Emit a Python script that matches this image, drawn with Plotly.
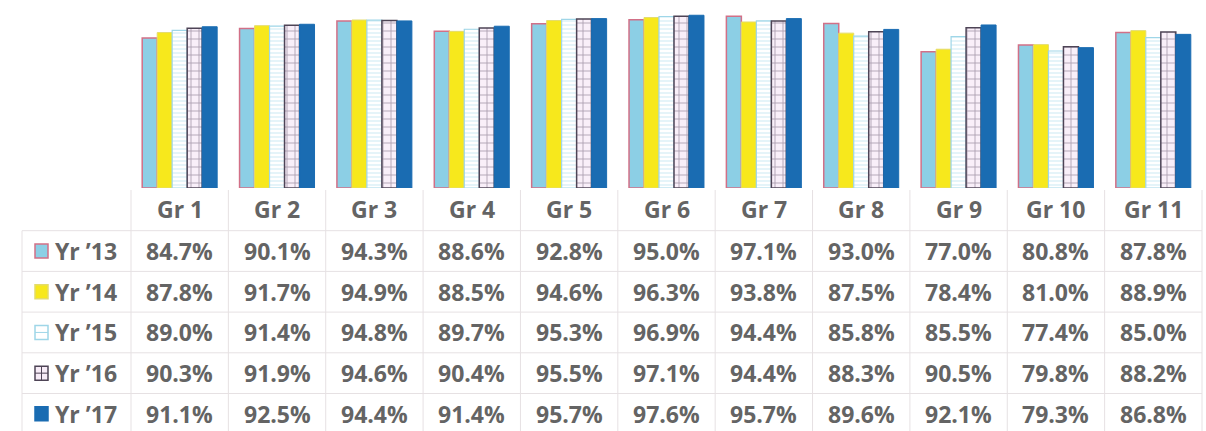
import plotly.graph_objects as go

# Categories and yearly percentages
groups = ["Gr 1", "Gr 2", "Gr 3", "Gr 4", "Gr 5", "Gr 6", "Gr 7", "Gr 8", "Gr 9", "Gr 10", "Gr 11"]
years = ["Yr ’13", "Yr ’14", "Yr ’15", "Yr ’16", "Yr ’17"]
yr13 = [84.7, 90.1, 94.3, 88.6, 92.8, 95.0, 97.1, 93.0, 77.0, 80.8, 87.8]
yr14 = [87.8, 91.7, 94.9, 88.5, 94.6, 96.3, 93.8, 87.5, 78.4, 81.0, 88.9]
yr15 = [89.0, 91.4, 94.8, 89.7, 95.3, 96.9, 94.4, 85.8, 85.5, 77.4, 85.0]
yr16 = [90.3, 91.9, 94.6, 90.4, 95.5, 97.1, 94.4, 88.3, 90.5, 79.8, 88.2]
yr17 = [91.1, 92.5, 94.4, 91.4, 95.7, 97.6, 95.7, 89.6, 92.1, 79.3, 86.8]
series = [yr13, yr14, yr15, yr16, yr17]

W, H = 1206, 431
L, R, T, B = 131, 1202, 11, 188  # plot area in pixels


def xp(px):
    return (px - L) / (R - L)


def yp(py):
    return (B - py) / (B - T)


styles = [
    dict(color="#8ccfe5", line=dict(color="#d27087", width=1.5)),
    dict(color="#f7e81c", line=dict(color="#e4dc6a", width=1)),
    dict(color="#ffffff", line=dict(color="#9fd6e8", width=1.2),
         pattern=dict(shape="-", fgcolor="#b3e0ee", bgcolor="#ffffff", size=4, solidity=0.35)),
    dict(color="#f7ecf7", line=dict(color="#4e4456", width=1.5),
         pattern=dict(shape="+", fgcolor="#5a4864", bgcolor="#f9eff9", size=8, solidity=0.2)),
    dict(color="#1a6cb2", line=dict(color="#1a6cb2", width=1)),
]

fig = go.Figure()
for name, vals, st in zip(years, series, styles):
    fig.add_trace(go.Bar(x=groups, y=vals, name=name, marker=st, showlegend=False))

fig.update_layout(
    width=W, height=H,
    margin=dict(l=L, r=W - R, t=T, b=H - B),
    paper_bgcolor="white", plot_bgcolor="white",
    barmode="group", bargap=0.23, bargroupgap=0,
    xaxis=dict(showticklabels=False, showline=False, showgrid=False, zeroline=False,
               range=[-0.5, len(groups) - 0.5]),
    yaxis=dict(range=[0, 100], showticklabels=False, showline=False, zeroline=False,
               showgrid=True, dtick=100, gridcolor="#ececec"),
)

# Data table beneath the chart
font = dict(family="Open Sans", size=23, color="#646464", weight=700)
line_col = "#e6e1e3"
row0, row_h = 230.7, 40.7
cw = (R - L) / len(groups)

shapes = []
for k in range(5):
    y = row0 + k * row_h
    shapes.append(dict(type="line", xref="paper", yref="paper",
                       x0=xp(22), x1=xp(R), y0=yp(y), y1=yp(y),
                       line=dict(color=line_col, width=1)))
for k in range(len(groups) + 1):
    x = L + k * cw
    shapes.append(dict(type="line", xref="paper", yref="paper",
                       x0=xp(x), x1=xp(x), y0=yp(B + 2), y1=yp(H),
                       line=dict(color=line_col, width=1)))
shapes.append(dict(type="line", xref="paper", yref="paper",
                   x0=xp(22), x1=xp(22), y0=yp(row0), y1=yp(H),
                   line=dict(color=line_col, width=1)))

annotations = []
for g in groups:
    annotations.append(dict(x=g, xref="x", y=yp(209), yref="paper", text=g, borderpad=0,
                            showarrow=False, font=font, xanchor="center", yanchor="middle"))

for r, (name, vals) in enumerate(zip(years, series)):
    yc = row0 + row_h * (r + 0.5)
    annotations.append(dict(x=xp(54), xref="paper", y=yp(yc), yref="paper", text=name, borderpad=0,
                            showarrow=False, font=font, xanchor="left", yanchor="middle"))
    for g, v in zip(groups, vals):
        annotations.append(dict(x=g, xref="x", y=yp(yc), yref="paper", text=f"{v:.1f}%", borderpad=0,
                                showarrow=False, font=font, xanchor="center", yanchor="middle"))

    # legend key square
    kx0, kx1 = 35, 48
    ky0, ky1 = yc - 7, yc + 7
    st = styles[r]
    fill = st["color"]
    shapes.append(dict(type="rect", xref="paper", yref="paper",
                       x0=xp(kx0), x1=xp(kx1), y0=yp(ky1), y1=yp(ky0),
                       fillcolor=fill, line=dict(color=st["line"]["color"], width=1.5)))
    if r == 2:
        shapes.append(dict(type="line", xref="paper", yref="paper",
                           x0=xp(kx0), x1=xp(kx1), y0=yp(yc), y1=yp(yc),
                           line=dict(color="#9fd6e8", width=1)))
    if r == 3:
        shapes.append(dict(type="line", xref="paper", yref="paper",
                           x0=xp(kx0), x1=xp(kx1), y0=yp(yc), y1=yp(yc),
                           line=dict(color="#4e4456", width=1)))
        shapes.append(dict(type="line", xref="paper", yref="paper",
                           x0=xp((kx0 + kx1) / 2), x1=xp((kx0 + kx1) / 2), y0=yp(ky1), y1=yp(ky0),
                           line=dict(color="#4e4456", width=1)))

fig.update_layout(shapes=shapes, annotations=annotations)
fig.write_html("out.html")
